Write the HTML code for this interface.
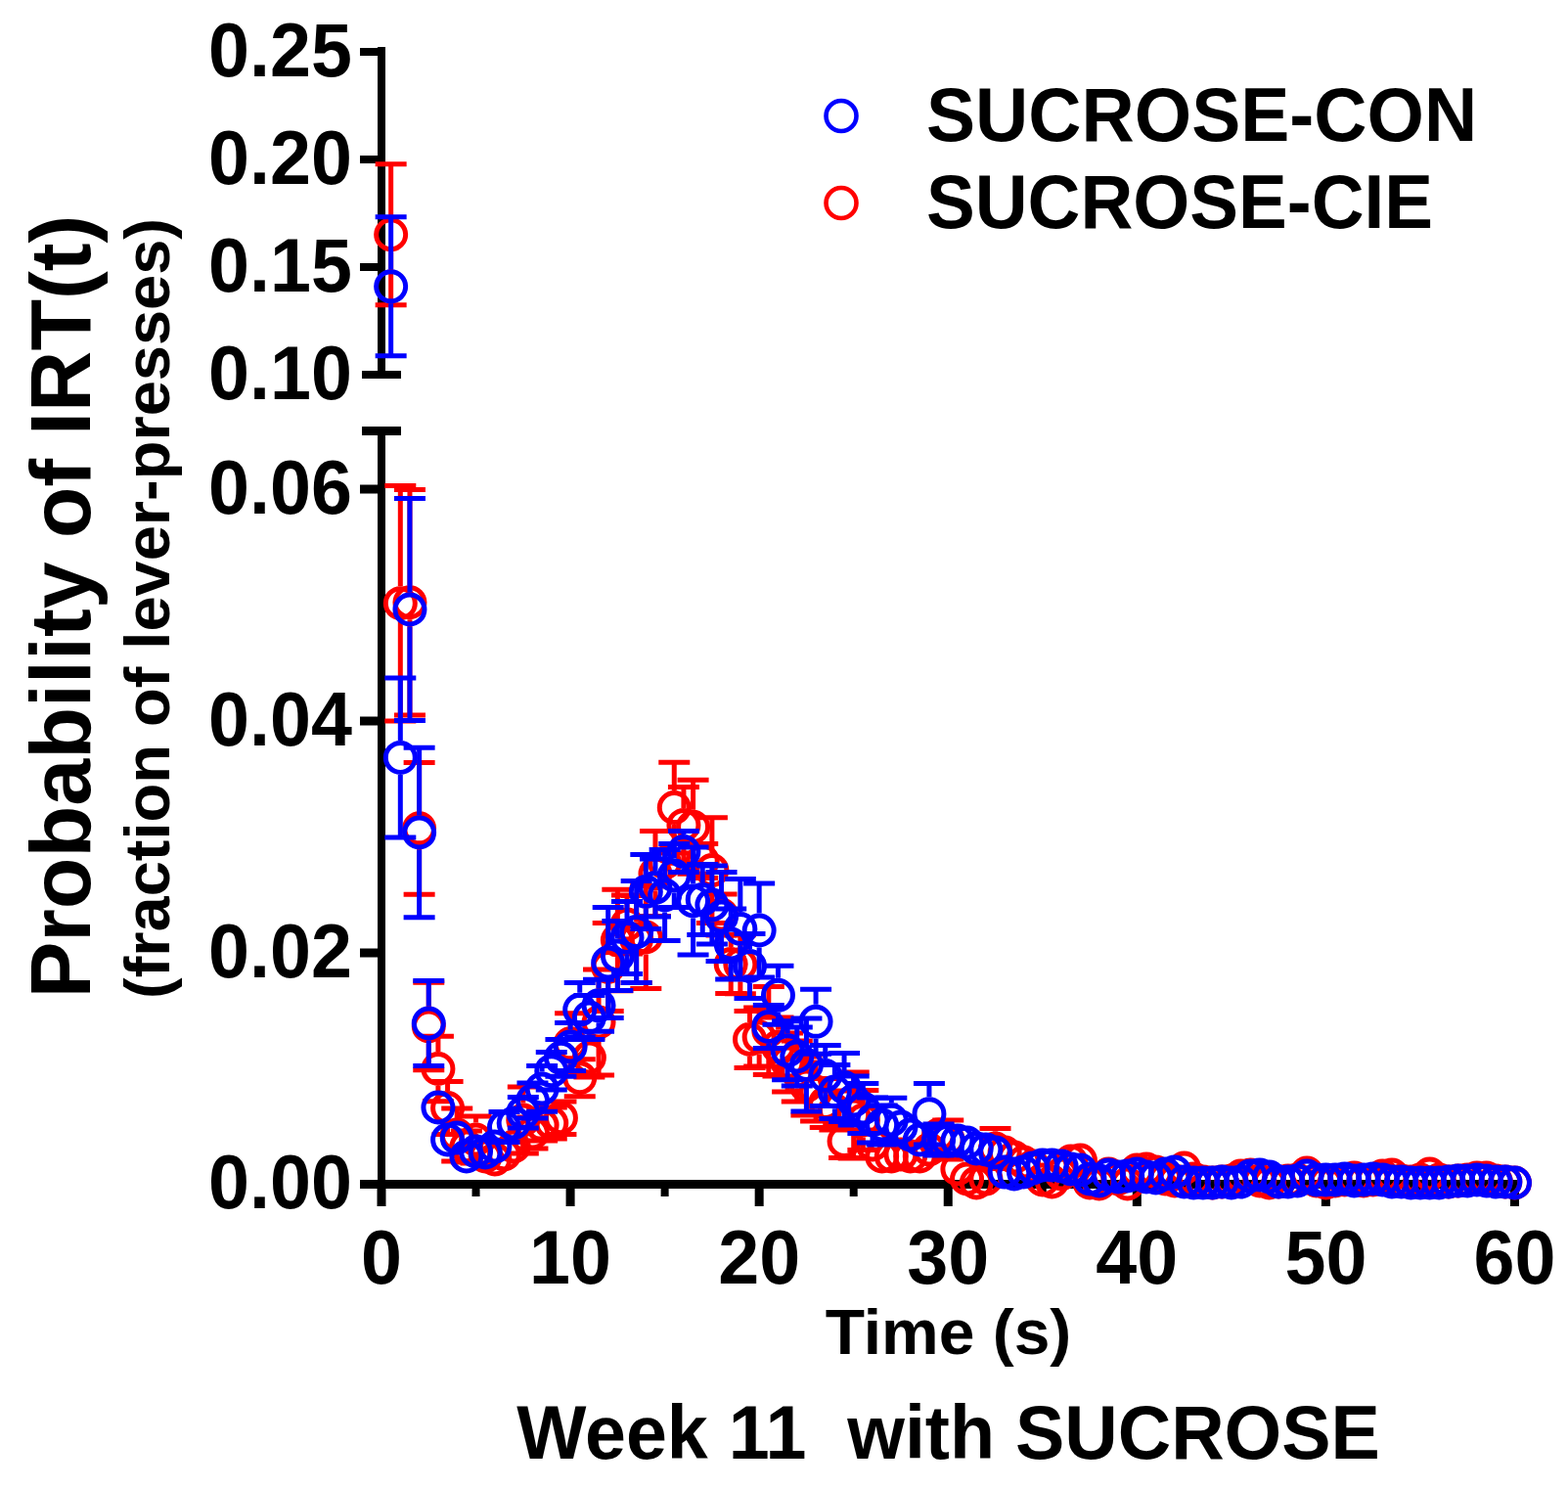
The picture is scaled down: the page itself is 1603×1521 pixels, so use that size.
<!DOCTYPE html><html><head><meta charset="utf-8"><title>Week 11 with SUCROSE</title><style>html,body{margin:0;padding:0;background:#fff;overflow:hidden}svg{display:block}text{font-family:'Liberation Sans', Arial, Helvetica, sans-serif;font-weight:bold;fill:#000}</style></head><body>
<svg width="1603" height="1521" viewBox="0 0 1603 1521">
<rect width="1603" height="1521" fill="#fff"/>
<g fill="#000"><rect x="386" y="48" width="8" height="339"/><rect x="368" y="49" width="18" height="8"/><rect x="368" y="159" width="18" height="8"/><rect x="368" y="269" width="18" height="8"/><rect x="370" y="379" width="40" height="8"/><rect x="370" y="436" width="40" height="9"/><rect x="386" y="436" width="8" height="797"/><rect x="368" y="495.5" width="18" height="9"/><rect x="368" y="732.5" width="18" height="9"/><rect x="368" y="969.5" width="18" height="9"/><rect x="368" y="1206" width="18" height="9"/><rect x="386" y="1206" width="1167" height="9"/><rect x="385.50" y="1206" width="9" height="27"/><rect x="482.54" y="1206" width="8" height="17"/><rect x="578.58" y="1206" width="9" height="27"/><rect x="675.62" y="1206" width="8" height="17"/><rect x="771.66" y="1206" width="9" height="27"/><rect x="868.70" y="1206" width="8" height="17"/><rect x="964.74" y="1206" width="9" height="27"/><rect x="1061.78" y="1206" width="8" height="17"/><rect x="1157.82" y="1206" width="9" height="27"/><rect x="1254.86" y="1206" width="8" height="17"/><rect x="1350.90" y="1206" width="9" height="27"/><rect x="1447.94" y="1206" width="8" height="17"/><rect x="1543.98" y="1206" width="9" height="27"/></g>
<text x="360.00" y="77.70" font-size="77.5" text-anchor="end" textLength="146.92" lengthAdjust="spacingAndGlyphs">0.25</text>
<text x="360.00" y="187.70" font-size="77.5" text-anchor="end" textLength="146.92" lengthAdjust="spacingAndGlyphs">0.20</text>
<text x="360.00" y="297.70" font-size="77.5" text-anchor="end" textLength="146.92" lengthAdjust="spacingAndGlyphs">0.15</text>
<text x="360.00" y="407.70" font-size="77.5" text-anchor="end" textLength="146.92" lengthAdjust="spacingAndGlyphs">0.10</text>
<text x="360.00" y="524.70" font-size="77.5" text-anchor="end" textLength="146.92" lengthAdjust="spacingAndGlyphs">0.06</text>
<text x="360.00" y="761.70" font-size="77.5" text-anchor="end" textLength="146.92" lengthAdjust="spacingAndGlyphs">0.04</text>
<text x="360.00" y="998.70" font-size="77.5" text-anchor="end" textLength="146.92" lengthAdjust="spacingAndGlyphs">0.02</text>
<text x="360.00" y="1235.20" font-size="77.5" text-anchor="end" textLength="146.92" lengthAdjust="spacingAndGlyphs">0.00</text>
<text x="390.00" y="1312.00" font-size="77.5" text-anchor="middle" textLength="41.98" lengthAdjust="spacingAndGlyphs">0</text>
<text x="583.08" y="1312.00" font-size="77.5" text-anchor="middle" textLength="83.96" lengthAdjust="spacingAndGlyphs">10</text>
<text x="776.16" y="1312.00" font-size="77.5" text-anchor="middle" textLength="83.96" lengthAdjust="spacingAndGlyphs">20</text>
<text x="969.24" y="1312.00" font-size="77.5" text-anchor="middle" textLength="83.96" lengthAdjust="spacingAndGlyphs">30</text>
<text x="1162.32" y="1312.00" font-size="77.5" text-anchor="middle" textLength="83.96" lengthAdjust="spacingAndGlyphs">40</text>
<text x="1355.40" y="1312.00" font-size="77.5" text-anchor="middle" textLength="83.96" lengthAdjust="spacingAndGlyphs">50</text>
<text x="1548.48" y="1312.00" font-size="77.5" text-anchor="middle" textLength="83.96" lengthAdjust="spacingAndGlyphs">60</text>
<text x="969.50" y="1384.00" font-size="65" text-anchor="middle" textLength="251.70" lengthAdjust="spacingAndGlyphs">Time (s)</text>
<text x="969.50" y="1491.00" font-size="77" text-anchor="middle" textLength="882.60" lengthAdjust="spacingAndGlyphs" xml:space="preserve">Week 11  with SUCROSE</text>
<text transform="translate(92.00,620.00) rotate(-90)" font-size="87" text-anchor="middle" textLength="800.70" lengthAdjust="spacingAndGlyphs">Probability of IRT(t)</text>
<text transform="translate(172.50,622.00) rotate(-90)" font-size="64" text-anchor="middle" textLength="798.00" lengthAdjust="spacingAndGlyphs">(fraction of lever-presses)</text>
<text x="947.00" y="144.00" font-size="78.5" textLength="563.20" lengthAdjust="spacingAndGlyphs">SUCROSE-CON</text>
<text x="947.00" y="232.70" font-size="78.5" textLength="518.00" lengthAdjust="spacingAndGlyphs">SUCROSE-CIE</text>
<circle cx="860" cy="118.5" r="15.5" fill="none" stroke="#00f" stroke-width="4.6"/>
<circle cx="860" cy="207.5" r="15.5" fill="none" stroke="#f00" stroke-width="4.6"/>
<g fill="none" stroke="#f00" stroke-width="5.0">
<path d="M399.65 222.25V167.75M399.65 257.25V311.75M383.65 167.75H415.65M383.65 311.75H415.65" stroke-width="5.0"/>
<circle cx="399.65" cy="239.75" r="15.0"/>
<path d="M409.31 599.20V496.40M409.31 634.20V737.00M393.31 496.40H425.31M393.31 737.00H425.31" stroke-width="5.0"/>
<circle cx="409.31" cy="616.70" r="15.0"/>
<path d="M418.96 598.25V500.50M418.96 633.25V731.00M402.96 500.50H434.96M402.96 731.00H434.96" stroke-width="5.0"/>
<circle cx="418.96" cy="615.75" r="15.0"/>
<path d="M428.62 829.30V779.40M428.62 864.30V914.20M412.62 779.40H444.62M412.62 914.20H444.62" stroke-width="5.0"/>
<circle cx="428.62" cy="846.80" r="15.0"/>
<path d="M438.27 1031.50V1004.20M438.27 1066.50V1093.80M422.27 1004.20H454.27M422.27 1093.80H454.27" stroke-width="5.0"/>
<circle cx="438.27" cy="1049.00" r="15.0"/>
<path d="M447.92 1075.00V1059.20M447.92 1110.00V1125.80M431.92 1059.20H463.92M431.92 1125.80H463.92" stroke-width="5.0"/>
<circle cx="447.92" cy="1092.50" r="15.0"/>
<path d="M457.58 1115.00V1105.50M457.58 1150.00V1159.50M441.58 1105.50H473.58M441.58 1159.50H473.58" stroke-width="5.0"/>
<circle cx="457.58" cy="1132.50" r="15.0"/>
<path d="M467.23 1142.50V1133.00M467.23 1177.50V1187.00M451.23 1133.00H483.23M451.23 1187.00H483.23" stroke-width="5.0"/>
<circle cx="467.23" cy="1160.00" r="15.0"/>
<path d="M460.89 1156.00H492.89M460.89 1188.00H492.89" stroke-width="5.0"/>
<circle cx="476.89" cy="1172.00" r="15.0"/>
<path d="M486.54 1147.50V1141.00M486.54 1182.50V1189.00M470.54 1141.00H502.54M470.54 1189.00H502.54" stroke-width="5.0"/>
<circle cx="486.54" cy="1165.00" r="15.0"/>
<circle cx="496.19" cy="1182.00" r="15.0"/>
<circle cx="505.85" cy="1185.00" r="15.0"/>
<circle cx="515.50" cy="1180.00" r="15.0"/>
<circle cx="525.16" cy="1172.00" r="15.0"/>
<path d="M534.81 1127.50V1111.00M534.81 1162.50V1179.00M518.81 1111.00H550.81M518.81 1179.00H550.81" stroke-width="5.0"/>
<circle cx="534.81" cy="1145.00" r="15.0"/>
<path d="M528.46 1142.00H560.46M528.46 1174.00H560.46" stroke-width="5.0"/>
<circle cx="544.46" cy="1158.00" r="15.0"/>
<path d="M538.12 1134.00H570.12M538.12 1166.00H570.12" stroke-width="5.0"/>
<circle cx="554.12" cy="1150.00" r="15.0"/>
<path d="M547.77 1132.00H579.77M547.77 1164.00H579.77" stroke-width="5.0"/>
<circle cx="563.77" cy="1148.00" r="15.0"/>
<path d="M557.43 1126.00H589.43M557.43 1159.40H589.43" stroke-width="5.0"/>
<circle cx="573.43" cy="1142.70" r="15.0"/>
<path d="M583.08 1049.30V1035.80M583.08 1084.30V1097.80M567.08 1035.80H599.08M567.08 1097.80H599.08" stroke-width="5.0"/>
<circle cx="583.08" cy="1066.80" r="15.0"/>
<path d="M592.73 1084.20V1082.70M592.73 1119.20V1120.70M576.73 1082.70H608.73M576.73 1120.70H608.73" stroke-width="5.0"/>
<circle cx="592.73" cy="1101.70" r="15.0"/>
<path d="M602.39 1063.50V1061.00M602.39 1098.50V1101.00M586.39 1061.00H618.39M586.39 1101.00H618.39" stroke-width="5.0"/>
<circle cx="602.39" cy="1081.00" r="15.0"/>
<path d="M612.04 1027.50V991.00M612.04 1062.50V1099.00M596.04 991.00H628.04M596.04 1099.00H628.04" stroke-width="5.0"/>
<circle cx="612.04" cy="1045.00" r="15.0"/>
<path d="M621.70 971.00V943.50M621.70 1006.00V1033.50M605.70 943.50H637.70M605.70 1033.50H637.70" stroke-width="5.0"/>
<circle cx="621.70" cy="988.50" r="15.0"/>
<path d="M631.35 943.50V909.20M631.35 978.50V1012.80M615.35 909.20H647.35M615.35 1012.80H647.35" stroke-width="5.0"/>
<circle cx="631.35" cy="961.00" r="15.0"/>
<path d="M641.00 927.50V915.00M641.00 962.50V975.00M625.00 915.00H657.00M625.00 975.00H657.00" stroke-width="5.0"/>
<circle cx="641.00" cy="945.00" r="15.0"/>
<path d="M650.66 942.50V915.50M650.66 977.50V1004.50M634.66 915.50H666.66M634.66 1004.50H666.66" stroke-width="5.0"/>
<circle cx="650.66" cy="960.00" r="15.0"/>
<path d="M660.31 940.50V905.60M660.31 975.50V1010.40M644.31 905.60H676.31M644.31 1010.40H676.31" stroke-width="5.0"/>
<circle cx="660.31" cy="958.00" r="15.0"/>
<path d="M669.97 875.50V849.40M669.97 910.50V936.60M653.97 849.40H685.97M653.97 936.60H685.97" stroke-width="5.0"/>
<circle cx="669.97" cy="893.00" r="15.0"/>
<circle cx="679.62" cy="882.00" r="15.0"/>
<path d="M689.27 808.10V779.30M689.27 843.10V871.90M673.27 779.30H705.27M673.27 871.90H705.27" stroke-width="5.0"/>
<circle cx="689.27" cy="825.60" r="15.0"/>
<path d="M698.93 825.90V804.50M698.93 860.90V882.30M682.93 804.50H714.93M682.93 882.30H714.93" stroke-width="5.0"/>
<circle cx="698.93" cy="843.40" r="15.0"/>
<path d="M708.58 827.80V797.30M708.58 862.80V893.30M692.58 797.30H724.58M692.58 893.30H724.58" stroke-width="5.0"/>
<circle cx="708.58" cy="845.30" r="15.0"/>
<path d="M702.24 862.60H734.24M702.24 897.40H734.24" stroke-width="5.0"/>
<circle cx="718.24" cy="880.00" r="15.0"/>
<path d="M727.89 872.10V835.80M727.89 907.10V943.40M711.89 835.80H743.89M711.89 943.40H743.89" stroke-width="5.0"/>
<circle cx="727.89" cy="889.60" r="15.0"/>
<path d="M737.54 917.50V914.00M737.54 952.50V956.00M721.54 914.00H753.54M721.54 956.00H753.54" stroke-width="5.0"/>
<circle cx="737.54" cy="935.00" r="15.0"/>
<path d="M747.20 968.10V955.60M747.20 1003.10V1015.60M731.20 955.60H763.20M731.20 1015.60H763.20" stroke-width="5.0"/>
<circle cx="747.20" cy="985.60" r="15.0"/>
<path d="M756.85 968.30V955.80M756.85 1003.30V1015.80M740.85 955.80H772.85M740.85 1015.80H772.85" stroke-width="5.0"/>
<circle cx="756.85" cy="985.80" r="15.0"/>
<path d="M766.51 1044.90V1033.40M766.51 1079.90V1091.40M750.51 1033.40H782.51M750.51 1091.40H782.51" stroke-width="5.0"/>
<circle cx="766.51" cy="1062.40" r="15.0"/>
<path d="M776.16 1042.50V1030.00M776.16 1077.50V1090.00M760.16 1030.00H792.16M760.16 1090.00H792.16" stroke-width="5.0"/>
<circle cx="776.16" cy="1060.00" r="15.0"/>
<path d="M785.81 1035.90V1008.40M785.81 1070.90V1098.40M769.81 1008.40H801.81M769.81 1098.40H801.81" stroke-width="5.0"/>
<circle cx="785.81" cy="1053.40" r="15.0"/>
<path d="M795.47 1052.50V1040.00M795.47 1087.50V1100.00M779.47 1040.00H811.47M779.47 1100.00H811.47" stroke-width="5.0"/>
<circle cx="795.47" cy="1070.00" r="15.0"/>
<path d="M805.12 1068.50V1056.00M805.12 1103.50V1116.00M789.12 1056.00H821.12M789.12 1116.00H821.12" stroke-width="5.0"/>
<circle cx="805.12" cy="1086.00" r="15.0"/>
<path d="M814.78 1077.50V1064.00M814.78 1112.50V1126.00M798.78 1064.00H830.78M798.78 1126.00H830.78" stroke-width="5.0"/>
<circle cx="814.78" cy="1095.00" r="15.0"/>
<path d="M824.43 1092.50V1080.00M824.43 1127.50V1140.00M808.43 1080.00H840.43M808.43 1140.00H840.43" stroke-width="5.0"/>
<circle cx="824.43" cy="1110.00" r="15.0"/>
<path d="M834.08 1098.50V1086.00M834.08 1133.50V1146.00M818.08 1086.00H850.08M818.08 1146.00H850.08" stroke-width="5.0"/>
<circle cx="834.08" cy="1116.00" r="15.0"/>
<path d="M843.74 1110.00V1102.50M843.74 1145.00V1152.50M827.74 1102.50H859.74M827.74 1152.50H859.74" stroke-width="5.0"/>
<circle cx="843.74" cy="1127.50" r="15.0"/>
<path d="M853.39 1117.50V1115.00M853.39 1152.50V1155.00M837.39 1115.00H869.39M837.39 1155.00H869.39" stroke-width="5.0"/>
<circle cx="853.39" cy="1135.00" r="15.0"/>
<path d="M847.05 1149.50H879.05M847.05 1183.50H879.05" stroke-width="5.0"/>
<circle cx="863.05" cy="1166.50" r="15.0"/>
<path d="M872.70 1122.50V1096.00M872.70 1157.50V1184.00M856.70 1096.00H888.70M856.70 1184.00H888.70" stroke-width="5.0"/>
<circle cx="872.70" cy="1140.00" r="15.0"/>
<path d="M882.35 1127.50V1114.50M882.35 1162.50V1175.50M866.35 1114.50H898.35M866.35 1175.50H898.35" stroke-width="5.0"/>
<circle cx="882.35" cy="1145.00" r="15.0"/>
<circle cx="892.01" cy="1170.00" r="15.0"/>
<circle cx="901.66" cy="1182.00" r="15.0"/>
<circle cx="911.32" cy="1182.00" r="15.0"/>
<circle cx="920.97" cy="1180.00" r="15.0"/>
<circle cx="930.62" cy="1182.00" r="15.0"/>
<circle cx="940.28" cy="1182.00" r="15.0"/>
<circle cx="949.93" cy="1175.00" r="15.0"/>
<circle cx="959.59" cy="1160.00" r="15.0"/>
<path d="M969.24 1147.50V1145.00M969.24 1182.50V1185.00M953.24 1145.00H985.24M953.24 1185.00H985.24" stroke-width="5.0"/>
<circle cx="969.24" cy="1165.00" r="15.0"/>
<circle cx="978.89" cy="1195.00" r="15.0"/>
<circle cx="988.55" cy="1205.00" r="15.0"/>
<circle cx="998.20" cy="1209.00" r="15.0"/>
<circle cx="1007.86" cy="1205.00" r="15.0"/>
<path d="M1017.51 1156.50V1153.40M1017.51 1191.50V1194.60M1001.51 1153.40H1033.51M1001.51 1194.60H1033.51" stroke-width="5.0"/>
<circle cx="1017.51" cy="1174.00" r="15.0"/>
<circle cx="1027.16" cy="1178.00" r="15.0"/>
<circle cx="1036.82" cy="1183.00" r="15.0"/>
<circle cx="1046.47" cy="1188.00" r="15.0"/>
<circle cx="1056.13" cy="1192.00" r="15.0"/>
<circle cx="1065.78" cy="1206.00" r="15.0"/>
<circle cx="1075.43" cy="1208.00" r="15.0"/>
<circle cx="1085.09" cy="1200.00" r="15.0"/>
<circle cx="1094.74" cy="1187.00" r="15.0"/>
<circle cx="1104.40" cy="1186.00" r="15.0"/>
<circle cx="1114.05" cy="1209.00" r="15.0"/>
<circle cx="1123.70" cy="1210.00" r="15.0"/>
<circle cx="1133.36" cy="1200.00" r="15.0"/>
<circle cx="1143.01" cy="1205.00" r="15.0"/>
<circle cx="1152.67" cy="1210.00" r="15.0"/>
<circle cx="1162.32" cy="1196.00" r="15.0"/>
<circle cx="1171.97" cy="1195.00" r="15.0"/>
<circle cx="1181.63" cy="1198.00" r="15.0"/>
<circle cx="1191.28" cy="1205.00" r="15.0"/>
<circle cx="1200.94" cy="1207.00" r="15.0"/>
<circle cx="1210.59" cy="1194.00" r="15.0"/>
<circle cx="1220.24" cy="1205.00" r="15.0"/>
<circle cx="1229.90" cy="1208.00" r="15.0"/>
<circle cx="1239.55" cy="1209.00" r="15.0"/>
<circle cx="1249.21" cy="1208.00" r="15.0"/>
<circle cx="1258.86" cy="1207.00" r="15.0"/>
<circle cx="1268.51" cy="1202.00" r="15.0"/>
<circle cx="1278.17" cy="1201.00" r="15.0"/>
<circle cx="1287.82" cy="1207.00" r="15.0"/>
<circle cx="1297.48" cy="1209.00" r="15.0"/>
<circle cx="1307.13" cy="1208.00" r="15.0"/>
<circle cx="1316.78" cy="1207.00" r="15.0"/>
<circle cx="1326.44" cy="1206.00" r="15.0"/>
<circle cx="1336.09" cy="1199.00" r="15.0"/>
<circle cx="1345.75" cy="1207.00" r="15.0"/>
<circle cx="1355.40" cy="1209.00" r="15.0"/>
<circle cx="1365.05" cy="1207.00" r="15.0"/>
<circle cx="1374.71" cy="1206.00" r="15.0"/>
<circle cx="1384.36" cy="1204.00" r="15.0"/>
<circle cx="1394.02" cy="1207.00" r="15.0"/>
<circle cx="1403.67" cy="1206.00" r="15.0"/>
<circle cx="1413.32" cy="1202.00" r="15.0"/>
<circle cx="1422.98" cy="1201.00" r="15.0"/>
<circle cx="1432.63" cy="1207.00" r="15.0"/>
<circle cx="1442.29" cy="1208.00" r="15.0"/>
<circle cx="1451.94" cy="1206.00" r="15.0"/>
<circle cx="1461.59" cy="1200.00" r="15.0"/>
<circle cx="1471.25" cy="1206.00" r="15.0"/>
<circle cx="1480.90" cy="1208.00" r="15.0"/>
<circle cx="1490.56" cy="1207.00" r="15.0"/>
<circle cx="1500.21" cy="1206.00" r="15.0"/>
<circle cx="1509.86" cy="1204.00" r="15.0"/>
<circle cx="1519.52" cy="1204.00" r="15.0"/>
<circle cx="1529.17" cy="1207.00" r="15.0"/>
<circle cx="1538.83" cy="1208.00" r="15.0"/>
<circle cx="1548.48" cy="1209.00" r="15.0"/>
</g>
<g fill="none" stroke="#00f" stroke-width="5.0">
<path d="M399.65 275.30V221.80M399.65 310.30V363.80M383.65 221.80H415.65M383.65 363.80H415.65" stroke-width="5.0"/>
<circle cx="399.65" cy="292.80" r="15.0"/>
<path d="M409.31 756.90V692.90M409.31 791.90V855.90M393.31 692.90H425.31M393.31 855.90H425.31" stroke-width="5.0"/>
<circle cx="409.31" cy="774.40" r="15.0"/>
<path d="M418.96 605.50V509.50M418.96 640.50V736.50M402.96 509.50H434.96M402.96 736.50H434.96" stroke-width="5.0"/>
<circle cx="418.96" cy="623.00" r="15.0"/>
<path d="M428.62 833.50V764.20M428.62 868.50V937.80M412.62 764.20H444.62M412.62 937.80H444.62" stroke-width="5.0"/>
<circle cx="428.62" cy="851.00" r="15.0"/>
<path d="M438.27 1028.50V1002.50M438.27 1063.50V1089.50M422.27 1002.50H454.27M422.27 1089.50H454.27" stroke-width="5.0"/>
<circle cx="438.27" cy="1046.00" r="15.0"/>
<circle cx="447.92" cy="1132.00" r="15.0"/>
<circle cx="457.58" cy="1165.00" r="15.0"/>
<circle cx="467.23" cy="1163.00" r="15.0"/>
<circle cx="476.89" cy="1182.00" r="15.0"/>
<circle cx="486.54" cy="1177.00" r="15.0"/>
<circle cx="496.19" cy="1178.00" r="15.0"/>
<circle cx="505.85" cy="1172.00" r="15.0"/>
<path d="M499.50 1136.50H531.50M499.50 1167.50H531.50" stroke-width="5.0"/>
<circle cx="515.50" cy="1152.00" r="15.0"/>
<circle cx="525.16" cy="1148.00" r="15.0"/>
<path d="M518.81 1121.50H550.81M518.81 1153.10H550.81" stroke-width="5.0"/>
<circle cx="534.81" cy="1137.30" r="15.0"/>
<path d="M544.46 1107.50V1107.00M544.46 1142.50V1143.00M528.46 1107.00H560.46M528.46 1143.00H560.46" stroke-width="5.0"/>
<circle cx="544.46" cy="1125.00" r="15.0"/>
<path d="M554.12 1095.40V1089.60M554.12 1130.40V1136.20M538.12 1089.60H570.12M538.12 1136.20H570.12" stroke-width="5.0"/>
<circle cx="554.12" cy="1112.90" r="15.0"/>
<path d="M563.77 1077.20V1075.40M563.77 1112.20V1114.00M547.77 1075.40H579.77M547.77 1114.00H579.77" stroke-width="5.0"/>
<circle cx="563.77" cy="1094.70" r="15.0"/>
<path d="M573.43 1063.80V1062.40M573.43 1098.80V1100.20M557.43 1062.40H589.43M557.43 1100.20H589.43" stroke-width="5.0"/>
<circle cx="573.43" cy="1081.30" r="15.0"/>
<path d="M583.08 1052.50V1045.50M583.08 1087.50V1094.50M567.08 1045.50H599.08M567.08 1094.50H599.08" stroke-width="5.0"/>
<circle cx="583.08" cy="1070.00" r="15.0"/>
<path d="M592.73 1014.70V1004.50M592.73 1049.70V1059.90M576.73 1004.50H608.73M576.73 1059.90H608.73" stroke-width="5.0"/>
<circle cx="592.73" cy="1032.20" r="15.0"/>
<path d="M602.39 1022.50V1017.60M602.39 1057.50V1062.40M586.39 1017.60H618.39M586.39 1062.40H618.39" stroke-width="5.0"/>
<circle cx="602.39" cy="1040.00" r="15.0"/>
<path d="M612.04 1010.30V1001.30M612.04 1045.30V1054.30M596.04 1001.30H628.04M596.04 1054.30H628.04" stroke-width="5.0"/>
<circle cx="612.04" cy="1027.80" r="15.0"/>
<path d="M621.70 966.50V927.40M621.70 1001.50V1040.60M605.70 927.40H637.70M605.70 1040.60H637.70" stroke-width="5.0"/>
<circle cx="621.70" cy="984.00" r="15.0"/>
<path d="M631.35 959.50V941.50M631.35 994.50V1012.50M615.35 941.50H647.35M615.35 1012.50H647.35" stroke-width="5.0"/>
<circle cx="631.35" cy="977.00" r="15.0"/>
<path d="M641.00 940.90V921.40M641.00 975.90V995.40M625.00 921.40H657.00M625.00 995.40H657.00" stroke-width="5.0"/>
<circle cx="641.00" cy="958.40" r="15.0"/>
<path d="M650.66 935.10V900.60M650.66 970.10V1004.60M634.66 900.60H666.66M634.66 1004.60H666.66" stroke-width="5.0"/>
<circle cx="650.66" cy="952.60" r="15.0"/>
<path d="M660.31 894.00V873.50M660.31 929.00V949.50M644.31 873.50H676.31M644.31 949.50H676.31" stroke-width="5.0"/>
<circle cx="660.31" cy="911.50" r="15.0"/>
<path d="M669.97 890.00V878.00M669.97 925.00V937.00M653.97 878.00H685.97M653.97 937.00H685.97" stroke-width="5.0"/>
<circle cx="669.97" cy="907.50" r="15.0"/>
<path d="M679.62 897.50V868.50M679.62 932.50V961.50M663.62 868.50H695.62M663.62 961.50H695.62" stroke-width="5.0"/>
<circle cx="679.62" cy="915.00" r="15.0"/>
<path d="M689.27 877.50V862.60M689.27 912.50V927.40M673.27 862.60H705.27M673.27 927.40H705.27" stroke-width="5.0"/>
<circle cx="689.27" cy="895.00" r="15.0"/>
<path d="M698.93 853.10V849.60M698.93 888.10V891.60M682.93 849.60H714.93M682.93 891.60H714.93" stroke-width="5.0"/>
<circle cx="698.93" cy="870.60" r="15.0"/>
<path d="M708.58 903.50V866.00M708.58 938.50V976.00M692.58 866.00H724.58M692.58 976.00H724.58" stroke-width="5.0"/>
<circle cx="708.58" cy="921.00" r="15.0"/>
<path d="M718.24 901.90V883.40M718.24 936.90V955.40M702.24 883.40H734.24M702.24 955.40H734.24" stroke-width="5.0"/>
<circle cx="718.24" cy="919.40" r="15.0"/>
<path d="M727.89 907.50V885.00M727.89 942.50V965.00M711.89 885.00H743.89M711.89 965.00H743.89" stroke-width="5.0"/>
<circle cx="727.89" cy="925.00" r="15.0"/>
<path d="M737.54 919.50V891.50M737.54 954.50V982.50M721.54 891.50H753.54M721.54 982.50H753.54" stroke-width="5.0"/>
<circle cx="737.54" cy="937.00" r="15.0"/>
<path d="M747.20 947.50V929.00M747.20 982.50V1001.00M731.20 929.00H763.20M731.20 1001.00H763.20" stroke-width="5.0"/>
<circle cx="747.20" cy="965.00" r="15.0"/>
<path d="M756.85 932.00V898.50M756.85 967.00V1000.50M740.85 898.50H772.85M740.85 1000.50H772.85" stroke-width="5.0"/>
<circle cx="756.85" cy="949.50" r="15.0"/>
<path d="M766.51 970.00V954.50M766.51 1005.00V1020.50M750.51 954.50H782.51M750.51 1020.50H782.51" stroke-width="5.0"/>
<circle cx="766.51" cy="987.50" r="15.0"/>
<path d="M776.16 933.50V903.00M776.16 968.50V999.00M760.16 903.00H792.16M760.16 999.00H792.16" stroke-width="5.0"/>
<circle cx="776.16" cy="951.00" r="15.0"/>
<path d="M785.81 1031.90V1027.40M785.81 1066.90V1071.40M769.81 1027.40H801.81M769.81 1071.40H801.81" stroke-width="5.0"/>
<circle cx="785.81" cy="1049.40" r="15.0"/>
<path d="M795.47 999.80V987.30M795.47 1034.80V1047.30M779.47 987.30H811.47M779.47 1047.30H811.47" stroke-width="5.0"/>
<circle cx="795.47" cy="1017.30" r="15.0"/>
<path d="M805.12 1056.30V1043.80M805.12 1091.30V1103.80M789.12 1043.80H821.12M789.12 1103.80H821.12" stroke-width="5.0"/>
<circle cx="805.12" cy="1073.80" r="15.0"/>
<path d="M814.78 1062.50V1050.00M814.78 1097.50V1110.00M798.78 1050.00H830.78M798.78 1110.00H830.78" stroke-width="5.0"/>
<circle cx="814.78" cy="1080.00" r="15.0"/>
<path d="M824.43 1071.00V1041.00M824.43 1106.00V1136.00M808.43 1041.00H840.43M808.43 1136.00H840.43" stroke-width="5.0"/>
<circle cx="824.43" cy="1088.50" r="15.0"/>
<path d="M834.08 1026.80V1011.30M834.08 1061.80V1077.30M818.08 1011.30H850.08M818.08 1077.30H850.08" stroke-width="5.0"/>
<circle cx="834.08" cy="1044.30" r="15.0"/>
<path d="M843.74 1081.90V1068.40M843.74 1116.90V1130.40M827.74 1068.40H859.74M827.74 1130.40H859.74" stroke-width="5.0"/>
<circle cx="843.74" cy="1099.40" r="15.0"/>
<path d="M853.39 1098.50V1088.40M853.39 1133.50V1143.60M837.39 1088.40H869.39M837.39 1143.60H869.39" stroke-width="5.0"/>
<circle cx="853.39" cy="1116.00" r="15.0"/>
<path d="M863.05 1093.90V1076.40M863.05 1128.90V1146.40M847.05 1076.40H879.05M847.05 1146.40H879.05" stroke-width="5.0"/>
<circle cx="863.05" cy="1111.40" r="15.0"/>
<path d="M872.70 1107.50V1100.00M872.70 1142.50V1150.00M856.70 1100.00H888.70M856.70 1150.00H888.70" stroke-width="5.0"/>
<circle cx="872.70" cy="1125.00" r="15.0"/>
<path d="M882.35 1115.50V1107.40M882.35 1150.50V1158.60M866.35 1107.40H898.35M866.35 1158.60H898.35" stroke-width="5.0"/>
<circle cx="882.35" cy="1133.00" r="15.0"/>
<path d="M892.01 1127.50V1122.00M892.01 1162.50V1168.00M876.01 1122.00H908.01M876.01 1168.00H908.01" stroke-width="5.0"/>
<circle cx="892.01" cy="1145.00" r="15.0"/>
<path d="M901.66 1132.50V1130.00M901.66 1167.50V1170.00M885.66 1130.00H917.66M885.66 1170.00H917.66" stroke-width="5.0"/>
<circle cx="901.66" cy="1150.00" r="15.0"/>
<path d="M911.32 1127.50V1122.30M911.32 1162.50V1167.70M895.32 1122.30H927.32M895.32 1167.70H927.32" stroke-width="5.0"/>
<circle cx="911.32" cy="1145.00" r="15.0"/>
<circle cx="920.97" cy="1152.00" r="15.0"/>
<circle cx="930.62" cy="1160.00" r="15.0"/>
<circle cx="940.28" cy="1165.00" r="15.0"/>
<path d="M949.93 1121.20V1107.40M949.93 1156.20V1170.00M933.93 1107.40H965.93M933.93 1170.00H965.93" stroke-width="5.0"/>
<circle cx="949.93" cy="1138.70" r="15.0"/>
<path d="M943.59 1149.00H975.59M943.59 1181.00H975.59" stroke-width="5.0"/>
<circle cx="959.59" cy="1165.00" r="15.0"/>
<circle cx="969.24" cy="1166.00" r="15.0"/>
<circle cx="978.89" cy="1166.00" r="15.0"/>
<circle cx="988.55" cy="1168.00" r="15.0"/>
<circle cx="998.20" cy="1174.00" r="15.0"/>
<circle cx="1007.86" cy="1175.00" r="15.0"/>
<circle cx="1017.51" cy="1178.00" r="15.0"/>
<circle cx="1027.16" cy="1198.00" r="15.0"/>
<circle cx="1036.82" cy="1200.00" r="15.0"/>
<circle cx="1046.47" cy="1198.00" r="15.0"/>
<circle cx="1056.13" cy="1194.00" r="15.0"/>
<circle cx="1065.78" cy="1191.00" r="15.0"/>
<circle cx="1075.43" cy="1191.00" r="15.0"/>
<circle cx="1085.09" cy="1192.00" r="15.0"/>
<circle cx="1094.74" cy="1195.00" r="15.0"/>
<circle cx="1104.40" cy="1196.00" r="15.0"/>
<circle cx="1114.05" cy="1205.00" r="15.0"/>
<circle cx="1123.70" cy="1207.00" r="15.0"/>
<circle cx="1133.36" cy="1201.00" r="15.0"/>
<circle cx="1143.01" cy="1203.00" r="15.0"/>
<circle cx="1152.67" cy="1202.00" r="15.0"/>
<circle cx="1162.32" cy="1200.00" r="15.0"/>
<circle cx="1171.97" cy="1203.00" r="15.0"/>
<circle cx="1181.63" cy="1204.00" r="15.0"/>
<circle cx="1191.28" cy="1200.00" r="15.0"/>
<circle cx="1200.94" cy="1198.00" r="15.0"/>
<circle cx="1210.59" cy="1208.00" r="15.0"/>
<circle cx="1220.24" cy="1209.00" r="15.0"/>
<circle cx="1229.90" cy="1209.00" r="15.0"/>
<circle cx="1239.55" cy="1209.00" r="15.0"/>
<circle cx="1249.21" cy="1208.00" r="15.0"/>
<circle cx="1258.86" cy="1209.00" r="15.0"/>
<circle cx="1268.51" cy="1208.00" r="15.0"/>
<circle cx="1278.17" cy="1202.00" r="15.0"/>
<circle cx="1287.82" cy="1201.00" r="15.0"/>
<circle cx="1297.48" cy="1203.00" r="15.0"/>
<circle cx="1307.13" cy="1208.00" r="15.0"/>
<circle cx="1316.78" cy="1208.00" r="15.0"/>
<circle cx="1326.44" cy="1207.00" r="15.0"/>
<circle cx="1336.09" cy="1202.00" r="15.0"/>
<circle cx="1345.75" cy="1206.00" r="15.0"/>
<circle cx="1355.40" cy="1206.00" r="15.0"/>
<circle cx="1365.05" cy="1206.00" r="15.0"/>
<circle cx="1374.71" cy="1205.00" r="15.0"/>
<circle cx="1384.36" cy="1207.00" r="15.0"/>
<circle cx="1394.02" cy="1206.00" r="15.0"/>
<circle cx="1403.67" cy="1205.00" r="15.0"/>
<circle cx="1413.32" cy="1206.00" r="15.0"/>
<circle cx="1422.98" cy="1208.00" r="15.0"/>
<circle cx="1432.63" cy="1208.00" r="15.0"/>
<circle cx="1442.29" cy="1209.00" r="15.0"/>
<circle cx="1451.94" cy="1209.00" r="15.0"/>
<circle cx="1461.59" cy="1209.00" r="15.0"/>
<circle cx="1471.25" cy="1209.00" r="15.0"/>
<circle cx="1480.90" cy="1208.00" r="15.0"/>
<circle cx="1490.56" cy="1207.00" r="15.0"/>
<circle cx="1500.21" cy="1207.00" r="15.0"/>
<circle cx="1509.86" cy="1206.00" r="15.0"/>
<circle cx="1519.52" cy="1207.00" r="15.0"/>
<circle cx="1529.17" cy="1208.00" r="15.0"/>
<circle cx="1538.83" cy="1208.00" r="15.0"/>
<circle cx="1548.48" cy="1209.00" r="15.0"/>
</g>
</svg></body></html>
